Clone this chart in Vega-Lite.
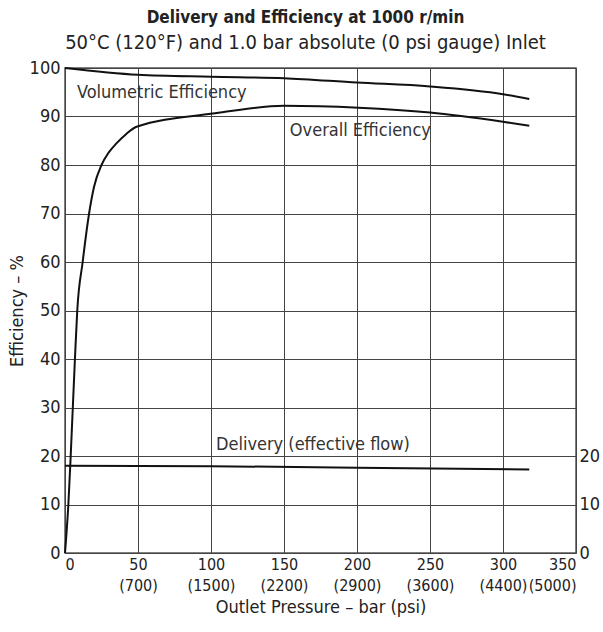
{
  "$schema": "https://vega.github.io/schema/vega-lite/v6.json",
  "width": 511,
  "height": 485,
  "autosize": "none",
  "padding": {"left": 65, "top": 68, "right": 27, "bottom": 79},
  "config": {
    "font": "DejaVu Sans Condensed, sans-serif",
    "view": {"stroke": "#555", "strokeWidth": 1.5},
    "axis": {
      "ticks": false,
      "domain": false,
      "gridColor": "#444",
      "gridOpacity": 1,
      "gridWidth": 1,
      "labelFontSize": 18,
      "labelColor": "#222",
      "labelOverlap": false,
      "titleFontSize": 18,
      "titleFontWeight": "normal",
      "titleColor": "#222"
    }
  },
  "title": {
    "text": "Delivery and Efficiency at 1000 r/min",
    "subtitle": "50°C (120°F) and 1.0 bar absolute (0 psi gauge) Inlet",
    "anchor": "middle",
    "dx": -15,
    "fontSize": 17,
    "fontWeight": "bold",
    "color": "#222",
    "subtitleFontSize": 20,
    "subtitleColor": "#222",
    "subtitlePadding": 6,
    "offset": 5
  },
  "datasets": {
    "eff": [
      {"series": "Volumetric", "bar": 0, "eff": 100},
      {"series": "Volumetric", "bar": 50, "eff": 98.6},
      {"series": "Volumetric", "bar": 100, "eff": 98.2},
      {"series": "Volumetric", "bar": 150, "eff": 97.9},
      {"series": "Volumetric", "bar": 200, "eff": 97.0},
      {"series": "Volumetric", "bar": 250, "eff": 96.2},
      {"series": "Volumetric", "bar": 300, "eff": 94.6},
      {"series": "Volumetric", "bar": 318, "eff": 93.6},
      {"series": "Overall", "bar": 0, "eff": 0},
      {"series": "Overall", "bar": 2.3, "eff": 10},
      {"series": "Overall", "bar": 3.9, "eff": 20},
      {"series": "Overall", "bar": 6.8, "eff": 40},
      {"series": "Overall", "bar": 8.4, "eff": 50},
      {"series": "Overall", "bar": 12.1, "eff": 60},
      {"series": "Overall", "bar": 16.5, "eff": 70},
      {"series": "Overall", "bar": 19.9, "eff": 75.5},
      {"series": "Overall", "bar": 25, "eff": 80},
      {"series": "Overall", "bar": 30, "eff": 82.6},
      {"series": "Overall", "bar": 35.4, "eff": 84.5},
      {"series": "Overall", "bar": 42, "eff": 86.4},
      {"series": "Overall", "bar": 49, "eff": 87.9},
      {"series": "Overall", "bar": 101, "eff": 90.6},
      {"series": "Overall", "bar": 150, "eff": 92.2},
      {"series": "Overall", "bar": 201, "eff": 91.8},
      {"series": "Overall", "bar": 250, "eff": 90.8},
      {"series": "Overall", "bar": 300, "eff": 88.9},
      {"series": "Overall", "bar": 318, "eff": 88.1}
    ],
    "delivery": [
      {"bar": 0, "flow": 18.0},
      {"bar": 100, "flow": 17.9},
      {"bar": 200, "flow": 17.6},
      {"bar": 318, "flow": 17.2}
    ],
    "labels": [
      {"label": "Volumetric Efficiency", "bar": 8.2, "val": 94.8},
      {"label": "Overall Efficiency", "bar": 154, "val": 87},
      {"label": "Delivery (effective flow)", "bar": 103.4, "val": 22.3}
    ]
  },
  "layer": [
    {
      "data": {"name": "eff"},
      "mark": {"type": "line", "color": "#111", "strokeWidth": 2, "interpolate": "monotone"},
      "encoding": {
        "x": {
          "field": "bar", "type": "quantitative",
          "scale": {"domain": [0, 350], "nice": false},
          "axis": {
            "values": [0, 50, 100, 150, 200, 250, 300, 350],
            "title": "Outlet Pressure – bar (psi)",
            "labelFontSize": 16,
            "labelPadding": 3,
            "titlePadding": 5,
            "labelLineHeight": 21,
            "labelExpr": "datum.value == 0 ? '0' : [datum.label, ['', '(700)', '(1500)', '(2200)', '(2900)', '(3600)', '(4400)', '(5000)'][datum.value / 50]]"
          }
        },
        "y": {
          "field": "eff", "type": "quantitative",
          "scale": {"domain": [0, 100], "nice": false},
          "axis": {
            "values": [0, 10, 20, 30, 40, 50, 60, 70, 80, 90, 100],
            "title": "Efficiency – %",
            "labelPadding": 5,
            "titlePadding": 3
          }
        },
        "detail": {"field": "series"}
      }
    },
    {
      "data": {"name": "delivery"},
      "mark": {"type": "line", "color": "#111", "strokeWidth": 2},
      "encoding": {
        "x": {"field": "bar", "type": "quantitative"},
        "y": {
          "field": "flow", "type": "quantitative",
          "axis": {
            "orient": "right",
            "values": [0, 10, 20],
            "grid": false,
            "title": null,
            "labelPadding": 3
          }
        }
      }
    },
    {
      "data": {"name": "labels"},
      "mark": {"type": "text", "align": "left", "baseline": "middle", "fontSize": 18, "color": "#333"},
      "encoding": {
        "x": {"field": "bar", "type": "quantitative"},
        "y": {"field": "val", "type": "quantitative", "axis": null},
        "text": {"field": "label"}
      }
    }
  ],
  "resolve": {"axis": {"y": "independent"}}
}
